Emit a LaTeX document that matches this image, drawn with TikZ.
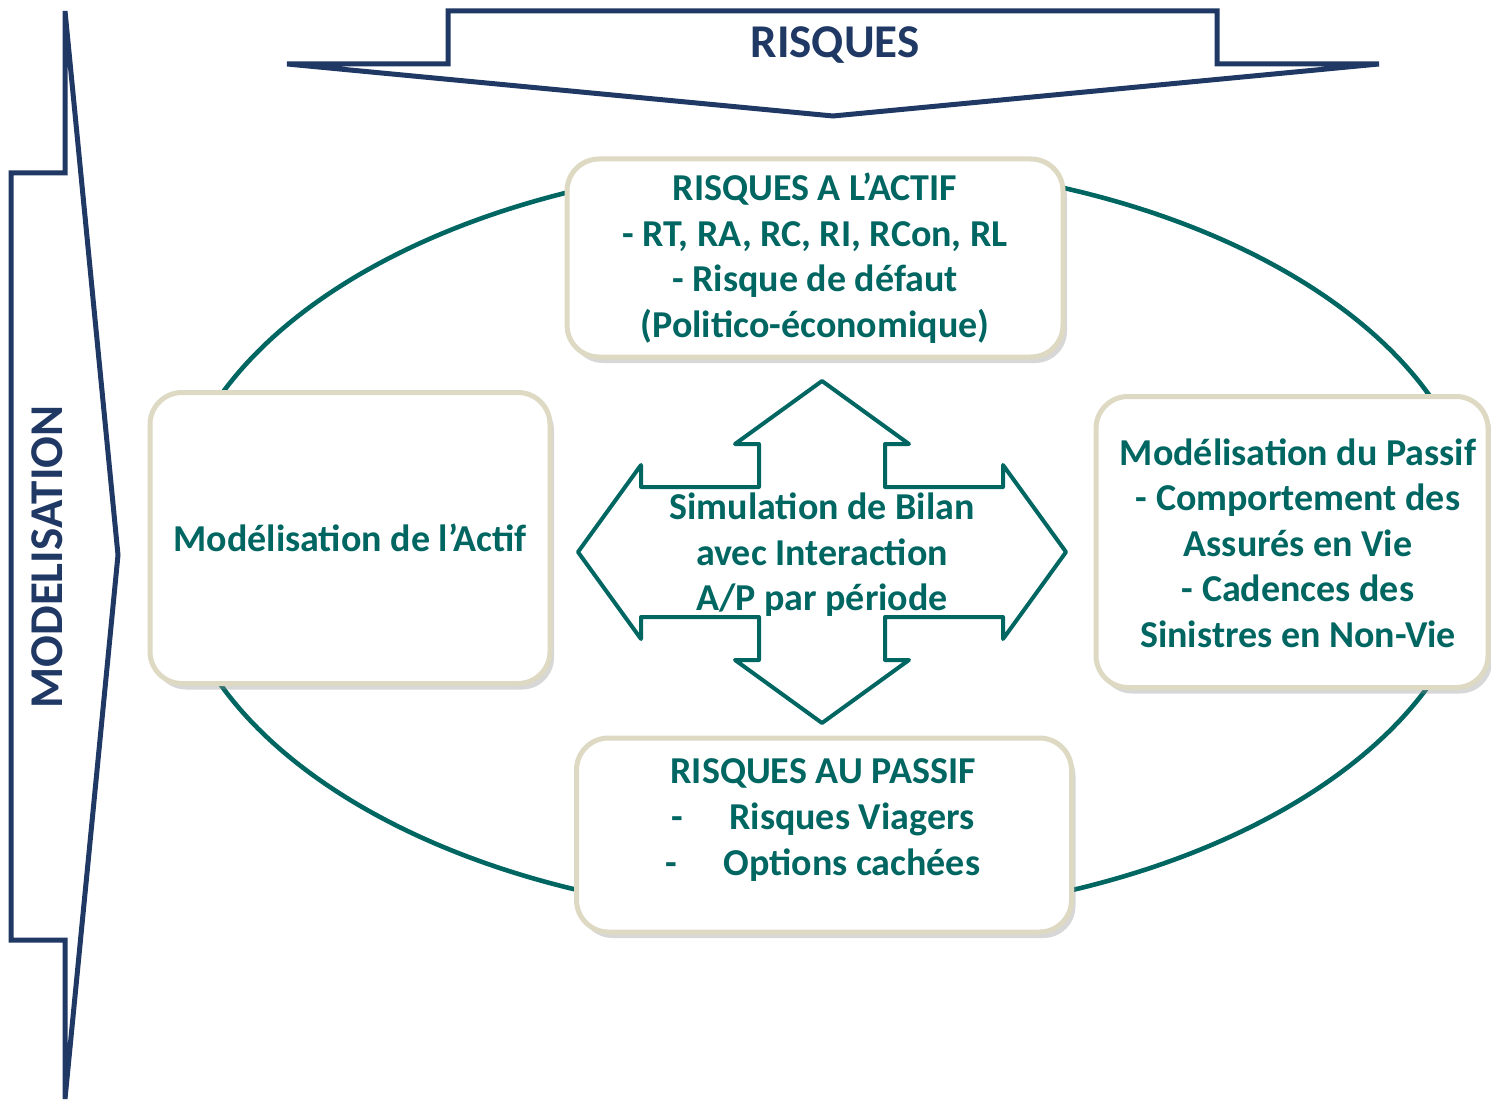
\documentclass[tikz,border=0pt]{standalone}
\usepackage{fontspec}
\setmainfont{Carlito}
\usetikzlibrary{positioning, shadows}
\definecolor{navy}{RGB}{31,56,100}
\definecolor{petrol}{RGB}{0,102,98}
\definecolor{sand}{RGB}{221,217,195}

\tikzset{
  box/.style={draw=sand, line width=2.5pt, fill=white, rounded corners=16pt,
    align=center, text=petrol, font=\bfseries\fontsize{19}{22.8}\selectfont,
    drop shadow={shadow xshift=2pt, shadow yshift=-3pt, opacity=0.35, fill=black!45}},
  boxtext/.style={align=center, text=petrol, font=\bfseries\fontsize{19}{22.8}\selectfont},
  bigarrow/.style={draw=navy, line width=2.5pt, line join=miter},
  bigtitle/.style={text=navy, font=\bfseries\fontsize{23.5}{28}\selectfont},
}

\begin{document}
\begin{tikzpicture}[x=0.5pt, y=-0.5pt]
  \useasboundingbox (0,0) rectangle (1491,1101);

  % arrows RISQUES and MODELISATION
  \draw[bigarrow] (287,64) -- (448,64) -- (448,11) -- (1217,11) -- (1217,64)
    -- (1379,64) -- (833,116) -- cycle;
  \node[bigtitle] (risques) at (835,45) {RISQUES};
  \draw[bigarrow] (65,11) -- (118,555) -- (65,1099) -- (65,940) -- (11,940)
    -- (11,173) -- (65,173) -- cycle;
  \node[bigtitle, rotate=90] (modelisation) at (47,557) {MODELISATION};

  % cycle
  \draw[petrol, line width=2.3pt] (825,540) ellipse [x radius=654, y radius=378];

  % boxes
  \node[box, minimum width=248pt, minimum height=99pt] (actifrisk) at (815,258)
    {RISQUES A L’ACTIF\\- RT, RA, RC, RI, RCon, RL\\- Risque de défaut\\(Politico-économique)};
  \node[box, minimum width=200pt, minimum height=145.5pt] (actif) at (350,538)
    {Modélisation de l’Actif};
  \node[box, minimum width=196pt, minimum height=145.5pt] (passif) at (1292,542) {};
  \node[boxtext] (passiftext) at (1298,543)
    {Modélisation du Passif\\- Comportement des\\Assurés en Vie\\- Cadences des\\Sinistres en Non-Vie};
  \node[box, minimum width=247.5pt, minimum height=97pt] (passifrisk) at (824,835) {};
  \node[boxtext, anchor=north] (passifrisktext) at (823,752)
    {RISQUES AU PASSIF\\-\hspace{23pt}Risques Viagers\\-\hspace{23pt}Options cachées};

  % simulation
  \begin{scope}[shift={(822,552)}]
    \draw[petrol, line width=2pt, line join=round]
      (0,-171) -- (87,-108) -- (63,-108) -- (63,-65) -- (181,-65) -- (181,-87)
      -- (244,0) -- (181,87) -- (181,65) -- (63,65) -- (63,108) -- (87,108)
      -- (0,171) -- (-87,108) -- (-63,108) -- (-63,65) -- (-181,65) -- (-181,87)
      -- (-244,0) -- (-181,-87) -- (-181,-65) -- (-63,-65) -- (-63,-108)
      -- (-87,-108) -- cycle;
  \end{scope}
  \node[boxtext] (bilan) at (822,555) {Simulation de Bilan\\avec Interaction\\A/P par période};
\end{tikzpicture}
\end{document}
